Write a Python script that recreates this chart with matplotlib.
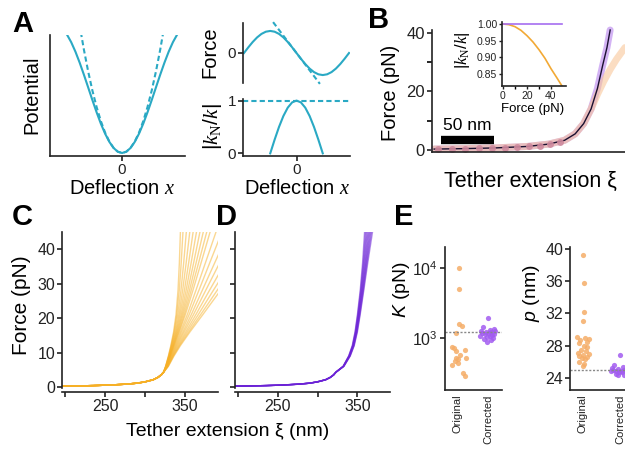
"""Multi-panel figure: nonlinear stiffness correction for tether force-extension fits."""

import numpy as np
import matplotlib.pyplot as plt
from matplotlib.ticker import FixedLocator, NullLocator

plt.rcParams['font.family'] = ['Liberation Sans', 'DejaVu Sans']
plt.rcParams['mathtext.fontset'] = 'custom'
plt.rcParams['mathtext.rm'] = 'Liberation Sans'
plt.rcParams['mathtext.it'] = 'Liberation Sans:italic'
plt.rcParams['mathtext.tt'] = 'Liberation Serif:italic'
plt.rcParams['mathtext.sf'] = 'Liberation Serif'
plt.rcParams['axes.linewidth'] = 1.2
plt.rcParams['axes.edgecolor'] = '#222222'
plt.rcParams['xtick.major.width'] = 1.2
plt.rcParams['ytick.major.width'] = 1.2
plt.rcParams['xtick.minor.width'] = 1.2
plt.rcParams['ytick.minor.width'] = 1.2
plt.rcParams['xtick.major.size'] = 3.5
plt.rcParams['ytick.major.size'] = 3.5
plt.rcParams['ytick.minor.size'] = 3.5

# ---- panel A: potential, force and stiffness ratio ----
defl_pos = [0.0, 0.2, 0.4, 0.6, 0.8, 1.0, 1.2, 1.4, 1.6, 1.8, 2.0, 2.2, 2.4, 2.6, 2.8, 3.0]
potential_pos = [0.0, 0.0199, 0.0789, 0.1747, 0.3033, 0.4597, 0.6376, 0.8300,
                 1.0292, 1.2272, 1.4161, 1.5885, 1.7374, 1.8569, 1.9422, 1.9900]
harmonic_pos = [0.0, 0.02, 0.08, 0.18, 0.32, 0.50, 0.72, 0.98, 1.28, 1.62, 2.00, 2.42, 2.88, 3.38, 3.92, 4.50]

force_defl = [-3.1416, -2.8798, -2.6180, -2.3562, -2.0944, -1.8326, -1.5708, -1.3090,
              -1.0472, -0.7854, -0.5236, -0.2618, 0.0, 0.2618, 0.5236, 0.7854, 1.0472,
              1.3090, 1.5708, 1.8326, 2.0944, 2.3562, 2.6180, 2.8798, 3.1416]
force_vals = [0.0, 0.2588, 0.5, 0.7071, 0.8660, 0.9659, 1.0, 0.9659, 0.8660, 0.7071,
              0.5, 0.2588, 0.0, -0.2588, -0.5, -0.7071, -0.8660, -0.9659, -1.0,
              -0.9659, -0.8660, -0.7071, -0.5, -0.2588, 0.0]
tangent_defl = [-1.4, 1.4]
tangent_vals = [1.4, -1.4]

ratio_defl = [-1.5708, -1.3090, -1.0472, -0.7854, -0.5236, -0.2618, 0.0,
              0.2618, 0.5236, 0.7854, 1.0472, 1.3090, 1.5708]
ratio_vals = [0.0, 0.2588, 0.5, 0.7071, 0.8660, 0.9659, 1.0,
              0.9659, 0.8660, 0.7071, 0.5, 0.2588, 0.0]

# ---- panel B: example force-extension trace ----
b_ext = [192, 220, 250, 280, 300, 315, 325, 333, 340, 346, 351, 355, 358]
b_force = [0.3, 0.45, 0.7, 1.2, 2.0, 3.3, 5.5, 9.0, 14.0, 21.0, 29.0, 35.0, 41.0]
b_orig_ext = [192, 220, 250, 280, 300, 315, 325, 333, 340, 346, 352, 358, 364, 372]
b_orig_force = [0.3, 0.45, 0.7, 1.2, 2.0, 3.3, 5.5, 9.0, 14.0, 19.0, 23.5, 27.5, 31.0, 35.0]
b_dot_ext = [196, 209, 221, 234, 247, 259, 270, 281, 292, 301, 311]
b_dot_force = [0.35, 0.4, 0.45, 0.55, 0.65, 0.8, 1.0, 1.2, 1.5, 2.0, 2.6]

inset_force = [0, 5, 10, 15, 20, 25, 30, 35, 40, 45, 49]
inset_orig = [1.0, 0.998, 0.992, 0.981, 0.965, 0.946, 0.923, 0.897, 0.866, 0.838, 0.815]
inset_corr = [1.0, 1.0, 1.0, 1.0, 1.0, 1.0, 1.0, 1.0, 1.0, 1.0, 1.0]

# ---- panels C/D: force-extension curves, shared low-force part ----
low_ext = [197, 215, 235, 255, 275, 290, 300, 310, 316, 320, 323]
low_force = [0.25, 0.3, 0.4, 0.55, 0.8, 1.1, 1.5, 2.1, 2.8, 3.5, 4.3]
high_force = [6, 9, 12, 16, 21, 28, 36, 45]
orig_high_ext = [
    [325.5, 329.0, 332.0, 335.5, 338.5, 341.0, 342.7, 344.0],
    [325.6, 329.2, 332.4, 336.1, 339.5, 342.6, 345.0, 347.2],
    [325.7, 329.5, 332.8, 336.9, 340.8, 344.7, 348.1, 351.4],
    [325.9, 329.8, 333.3, 337.8, 342.2, 346.8, 351.2, 355.7],
    [326.0, 330.1, 333.8, 338.6, 343.5, 349.0, 354.3, 359.9],
    [326.2, 330.3, 334.3, 339.4, 344.9, 351.1, 357.4, 364.1],
    [326.3, 330.6, 334.8, 340.2, 346.2, 353.2, 360.5, 368.4],
    [326.4, 330.9, 335.2, 341.0, 347.5, 355.3, 363.6, 372.6],
    [326.6, 331.2, 335.7, 341.9, 348.9, 357.4, 366.7, 376.9],
    [326.7, 331.5, 336.2, 342.7, 350.2, 359.6, 369.8, 381.1],
    [327.0, 331.9, 337.0, 344.1, 352.6, 363.3, 375.2, 388.5],
    [327.2, 332.4, 337.9, 345.5, 354.9, 367.0, 380.6, 395.9],
    [327.5, 333.0, 338.8, 347.2, 357.6, 371.2, 386.8, 404.4],
    [327.8, 333.6, 339.8, 348.8, 360.3, 375.5, 393.0, 412.9],
    [328.1, 334.2, 340.9, 350.7, 363.3, 380.2, 399.9, 422.4],
    [328.4, 334.8, 342.0, 352.5, 366.3, 385.0, 406.9, 432.0],
    [328.7, 335.4, 343.0, 354.4, 369.3, 389.8, 413.8, 441.5],
    [329.0, 336.0, 344.0, 356.0, 372.0, 394.0, 420.0, 450.0],
]
corr_high_ext = [
    [332.0, 339.0, 343.5, 347.0, 350.0, 353.5, 356.5, 359.0],
    [332.1, 339.2, 343.8, 347.3, 350.4, 354.0, 357.2, 360.1],
    [332.2, 339.4, 344.1, 347.7, 350.8, 354.5, 357.9, 361.2],
    [332.3, 339.7, 344.3, 348.0, 351.2, 355.0, 358.6, 362.3],
    [332.4, 339.9, 344.6, 348.3, 351.5, 355.5, 359.4, 363.4],
    [332.6, 340.1, 344.9, 348.7, 351.9, 356.0, 360.1, 364.5],
    [332.7, 340.3, 345.2, 349.0, 352.3, 356.5, 360.8, 365.6],
    [332.8, 340.5, 345.4, 349.3, 352.7, 357.0, 361.5, 366.7],
    [332.9, 340.8, 345.7, 349.6, 353.1, 357.5, 362.2, 367.8],
    [333.0, 341.0, 346.0, 350.0, 353.5, 358.0, 363.0, 369.0],
]

# ---- panel E: fitted stretch modulus and persistence length ----
K_original = [9900, 5000, 1570, 1510, 1175, 750, 730, 680, 660, 570, 525, 515, 505, 470, 435, 410, 315, 285]
K_corrected = [1950, 1420, 1350, 1310, 1280, 1250, 1230, 1210, 1190, 1170, 1150, 1130, 1110, 1090,
               1060, 1040, 1010, 980, 940, 890]
p_original = [39.2, 35.8, 32.2, 31.0, 29.0, 28.9, 28.8, 28.7, 28.5, 28.3, 28.0, 27.8, 27.5, 27.3,
              27.1, 26.9, 26.8, 26.7, 26.6, 26.5, 26.3, 26.0, 25.7, 25.5]
p_corrected = [26.8, 25.6, 25.4, 25.3, 25.2, 25.1, 25.1, 25.0, 25.0, 24.9, 24.9, 24.9, 24.8, 24.8,
               24.7, 24.7, 24.6, 24.5, 24.4, 24.3]
K_true = 1220
p_true = 25.0
categories = ['Original', 'Corrected']

# horizontal scatter of the strip plots (layout only)
K_orig_jit = [0.04, 0.02, 0.04, 0.14, -0.07, -0.21, -0.13, 0.24, -0.05, 0.06, 0.27, -0.08, 0.01, -0.11, 0.0, -0.19, 0.18, 0.24]
K_corr_jit = [0.0, -0.15, 0.2, 0.08, -0.22, 0.25, -0.05, 0.12, -0.18, 0.03, 0.22, -0.1, 0.15, -0.25, 0.06, -0.02, 0.18, -0.12, 0.1, -0.04]
p_orig_jit = [0.0, 0.02, 0.02, 0.01, -0.15, 0.05, 0.15, -0.08, 0.1, -0.12, 0.02, 0.12, -0.05, 0.08,
              -0.14, 0.16, 0.0, -0.1, 0.1, -0.03, 0.06, -0.12, 0.03, 0.0]
p_corr_jit = [0.0, -0.15, 0.2, 0.08, -0.22, 0.18, -0.05, 0.12, -0.18, 0.03, 0.22, -0.1, 0.15, -0.25,
              0.06, -0.02, 0.18, -0.12, 0.1, -0.04]

TEAL = '#2aa9c4'
GOLD = '#f6b026'
VIOLET = '#6b22d6'
ORANGE_PT = '#f5ad68'
PURPLE_PT = '#a25cf0'
KN = '$|\\mathtt{k}_{\\mathsf{N}}/\\mathtt{k}|$'

W, H = 625, 453
fig = plt.figure(figsize=(W / 100, H / 100), dpi=100)


def px_axes(l, t, r, b):
    return fig.add_axes([l / W, 1 - b / H, (r - l) / W, (b - t) / H])


def label(x, y, s, size, rot=0):
    fig.text(x / W, 1 - y / H, s, fontsize=size, rotation=rot, ha='center', va='center')


def clean(ax, bottom=True, size=11):
    ax.spines['top'].set_visible(False)
    ax.spines['right'].set_visible(False)
    if not bottom:
        ax.spines['bottom'].set_visible(False)
    ax.tick_params(labelsize=size, colors='#222222', pad=1.5)


def mirror(xs, ys):
    xs = np.asarray(xs)
    ys = np.asarray(ys)
    return np.concatenate([-xs[:0:-1], xs]), np.concatenate([ys[:0:-1], ys])


# ---------------- A ----------------
ax = px_axes(50, 35, 185, 156)
clean(ax)
xp, yp = mirror(defl_pos, potential_pos)
xh, yh = mirror(defl_pos, harmonic_pos)
ax.plot(xp, yp, color=TEAL, lw=1.5)
ax.plot(xh, yh, color=TEAL, lw=1.5, ls=(0, (2.5, 1.5)))
ax.set_xlim(-3.40, 2.97)
ax.set_ylim(-0.047, 1.85)
ax.set_xticks([0])
ax.set_yticks([])
label(32, 95, 'Potential', 14.5, 90)
label(122, 189, 'Deflection $\\mathtt{x}$', 14.5)

ax = px_axes(243, 23, 350, 83)
clean(ax, bottom=False)
ax.plot(force_defl, force_vals, color=TEAL, lw=1.5)
ax.plot(tangent_defl, tangent_vals, color=TEAL, lw=1.5, ls=(0, (2.5, 1.5)), clip_on=False)
ax.set_xlim(-3.2, 3.2)
ax.set_ylim(-1.36, 1.36)
ax.set_xticks([])
ax.set_yticks([0])
label(210, 52, 'Force', 14.5, 90)

ax = px_axes(243, 99, 350, 156)
clean(ax)
ax.plot(ratio_defl, ratio_vals, color=TEAL, lw=1.5)
ax.axhline(1, color=TEAL, lw=1.5, ls=(0, (2.5, 1.5)))
ax.set_xlim(-3.2, 3.2)
ax.set_ylim(-0.05, 1.03)
ax.set_xticks([0])
ax.set_yticks([0, 1])
label(212, 127, KN, 15, 90)
label(297, 189, 'Deflection $\\mathtt{x}$', 14.5)

# ---------------- B ----------------
ax = px_axes(432, 30, 625, 152)
clean(ax, size=12)
ax.plot(b_ext, b_force, color='#c8a0f2', lw=5, alpha=0.8, solid_capstyle='round', clip_on=False)
ax.plot(b_orig_ext, b_orig_force, color='#f9c79a', lw=5, alpha=0.6, solid_capstyle='round')
ax.plot(b_ext, b_force, color='#1a1030', lw=1.0, clip_on=False)
ax.plot(b_dot_ext, b_dot_force, 'o', color='#cf8a9e', ms=5, mec='none', alpha=0.9)
ax.set_xlim(190, 372)
ax.set_ylim(-0.7, 41)
ax.set_xticks([])
ax.set_yticks([0, 20, 40])
ax.yaxis.set_minor_locator(FixedLocator([10, 30]))
label(390, 93, 'Force (pN)', 14.5, 90)
label(530, 181, 'Tether extension ξ', 15.5)
ax.plot([198.5, 248.5], [3.3, 3.3], color='black', lw=6, solid_capstyle='butt')
ax.text(223.5, 5.8, '50 nm', ha='center', va='bottom', fontsize=12.5)

ax = px_axes(502, 22, 566, 86)
clean(ax)
ax.plot(inset_force, inset_orig, color='#f2a935', lw=1.2)
ax.plot(inset_force, inset_corr, color='#a66ef0', lw=1.2, clip_on=False)
ax.set_xlim(-0.8, 52.5)
ax.set_ylim(0.814, 1.006)
ax.set_xticks([0, 20, 40])
ax.xaxis.set_minor_locator(FixedLocator([10, 30]))
ax.set_yticks([0.85, 0.90, 0.95, 1.00])
ax.set_yticklabels(['0.85', '0.90', '0.95', '1.00'])
ax.tick_params(labelsize=7.5, length=2.5, width=1, pad=1)
ax.tick_params(which='minor', length=2.5, width=1)
label(533, 109, 'Force (pN)', 9.5)
label(462, 50, KN, 12, 90)

# ---------------- C / D ----------------
for l, r, curves, col, show in [(62, 218, orig_high_ext, GOLD, True),
                                 (235, 390, corr_high_ext, VIOLET, False)]:
    ax = px_axes(l, 232, r, 388)
    clean(ax, size=11.5)
    ax.spines['bottom'].set_position(('outward', 3))
    for ext in curves:
        ax.plot(low_ext + ext, low_force + high_force, color=col, lw=1.0, alpha=0.5)
    ax.set_xlim(196, 391)
    ax.set_ylim(-0.3, 45)
    ax.set_xticks([200, 250, 300, 350])
    ax.set_xticklabels(['', '250', '', '350'])
    ax.set_yticks([0, 10, 20, 30, 40])
    if not show:
        ax.set_yticklabels([])

label(22, 305, 'Force (pN)', 15, 90)
label(228, 432, 'Tether extension ξ (nm)', 14)

# ---------------- E ----------------
ax = px_axes(445, 247, 502, 390)
clean(ax, size=11.5)
ax.set_yscale('log')
ax.scatter(np.array(K_orig_jit), K_original, s=14, color=ORANGE_PT, alpha=0.85, lw=0)
ax.scatter(1 + np.array(K_corr_jit), K_corrected, s=14, color=PURPLE_PT, alpha=0.85, lw=0)
ax.axhline(K_true, color='#888888', lw=1, ls=(0, (1.5, 1.2)))
ax.set_xlim(-0.43, 1.47)
ax.set_ylim(10 ** 2.26, 10 ** 4.3)
ax.yaxis.set_major_locator(FixedLocator([1e3, 1e4]))
ax.yaxis.set_minor_locator(NullLocator())
ax.set_yticklabels(['$10^3$', '$10^4$'])
ax.set_xticks([0, 1])
ax.set_xticklabels(categories, rotation=90, fontsize=8)
ax.tick_params(axis='x', length=0, pad=3)
label(402, 289, '$K$ (pN)', 14, 90)

ax = px_axes(570, 247, 627, 390)
clean(ax, size=11.5)
ax.scatter(np.array(p_orig_jit), p_original, s=14, color=ORANGE_PT, alpha=0.85, lw=0)
ax.scatter(1 + np.array(p_corr_jit), p_corrected, s=14, color=PURPLE_PT, alpha=0.85, lw=0)
ax.axhline(p_true, color='#888888', lw=1, ls=(0, (1.5, 1.2)))
ax.set_xlim(-0.35, 1.19)
ax.set_ylim(22.5, 40.2)
ax.set_yticks([24, 28, 32, 36, 40])
ax.set_xticks([0, 1])
ax.set_xticklabels(categories, rotation=90, fontsize=8)
ax.tick_params(axis='x', length=0, pad=3)
label(532, 293, '$p$ (nm)', 14, 90)

# panel letters
for letter, x, y in [('A', 12, 10), ('B', 368, 6), ('C', 12, 203), ('D', 216, 203), ('E', 394, 203)]:
    fig.text(x / W, 1 - y / H, letter, fontsize=21, fontweight='bold', va='top', ha='left')

fig.savefig('out.png', dpi=100)
